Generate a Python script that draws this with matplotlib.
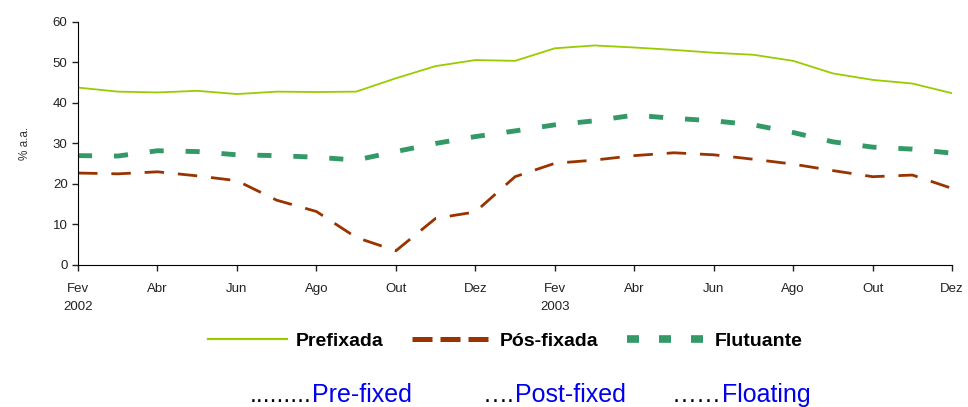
import matplotlib.pyplot as plt

plt.rcParams['font.family'] = ['Liberation Sans', 'DejaVu Sans']

# monthly, Fev 2002 .. Dez 2003
months = ['Fev\n2002', 'Mar', 'Abr', 'Mai', 'Jun', 'Jul', 'Ago', 'Set', 'Out', 'Nov', 'Dez',
          'Jan', 'Fev\n2003', 'Mar', 'Abr', 'Mai', 'Jun', 'Jul', 'Ago', 'Set', 'Out', 'Nov', 'Dez']
prefixada = [43.8, 42.8, 42.6, 43.0, 42.2, 42.8, 42.7, 42.8, 46.1, 49.1, 50.6, 50.4,
             53.5, 54.2, 53.7, 53.1, 52.4, 51.9, 50.4, 47.3, 45.7, 44.8, 42.4]
pos_fixada = [22.7, 22.5, 23.0, 22.0, 20.8, 16.0, 13.2, 6.8, 3.5, 11.5, 13.1, 21.8,
              25.1, 25.9, 27.0, 27.7, 27.2, 26.1, 24.9, 23.3, 21.8, 22.2, 18.9]
flutuante = [27.0, 26.9, 28.2, 28.0, 27.2, 27.0, 26.6, 25.9, 28.0, 30.0, 31.7, 33.1,
             34.6, 35.6, 37.0, 36.2, 35.6, 34.6, 32.7, 30.4, 29.1, 28.6, 27.6]
series_names = ['Prefixada', 'Pós-fixada', 'Flutuante']
english_names = ['Pre-fixed', 'Post-fixed', 'Floating']
english_dots = ['.........', '….', '……']

x = list(range(len(months)))

fig = plt.figure(figsize=(9.68, 4.07), dpi=100)
ax = fig.add_axes([0.0806, 0.349, 0.903, 0.597])

l1, = ax.plot(x, prefixada, color='#99cc00', lw=1.3, label=series_names[0])
l2, = ax.plot(x, pos_fixada, color='#993300', lw=2.0, dashes=(7, 5), label=series_names[1])
l3, = ax.plot(x, flutuante, color='#339966', lw=3.5, dashes=(2.9, 4.5), label=series_names[2])

ax.set_xlim(0, len(months) - 1)
ax.set_ylim(0, 60)
ax.set_yticks(range(0, 61, 10))
ax.set_xticks(x[::2])
ax.set_xticklabels(months[::2], linespacing=1.7)
ax.tick_params(labelsize=9.5, colors='#222222', length=4, width=1)
ax.tick_params(axis='x', pad=9)
for side in ['top', 'right']:
    ax.spines[side].set_visible(False)
for side in ['left', 'bottom']:
    ax.spines[side].set_color('black')
ax.set_ylabel('% a.a.', fontsize=8.5, color='#333333', labelpad=16)

leg = fig.legend(handles=[l1, l2, l3], loc='center', bbox_to_anchor=(0.522, 0.162), ncol=3,
                 frameon=False, prop={'weight': 'bold', 'size': 14}, handlelength=4.1,
                 columnspacing=1.5, handletextpad=0.4)
# thicker legend handles like the source
leg.legend_handles[0].set_linewidth(1.6)
leg.legend_handles[1].set_linewidth(3.6)
leg.legend_handles[1].set_dashes((4.0, 1.6))
leg.legend_handles[2].set_linewidth(5.5)
leg.legend_handles[2].set_dashes((1.57, 2.62))

# english translations under the chart
xpos = [0.258, 0.499, 0.694]
for xp, dots, name in zip(xpos, english_dots, english_names):
    t = fig.text(xp, 0.0, dots, fontsize=18, color='black', ha='left', va='bottom')
    fig.canvas.draw()
    bb = t.get_window_extent().transformed(fig.transFigure.inverted())
    fig.text(bb.x1, 0.0, name, fontsize=18, color='#0000ee', ha='left', va='bottom')

fig.savefig('out.png', dpi=100)
